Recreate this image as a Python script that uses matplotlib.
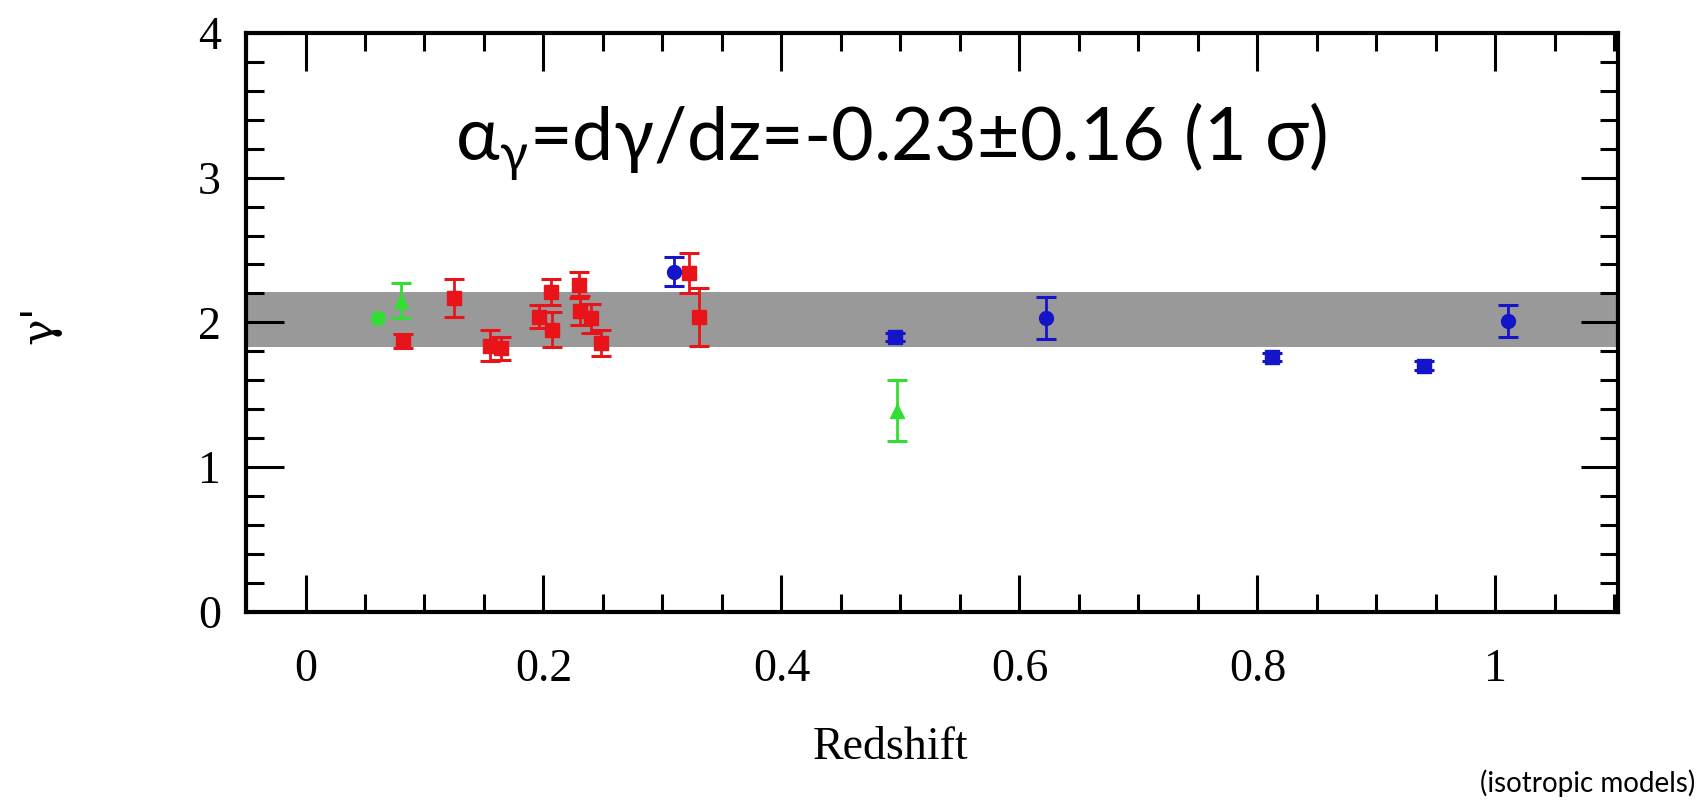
import matplotlib
matplotlib.use('Agg')
import matplotlib.pyplot as plt
from matplotlib.ticker import MultipleLocator

# data: redshift, gamma', error
red_z = [0.082, 0.125, 0.155, 0.164, 0.196, 0.206, 0.207, 0.230, 0.231, 0.240, 0.248, 0.322, 0.331]
red_g = [1.87, 2.17, 1.84, 1.82, 2.04, 2.21, 1.95, 2.26, 2.08, 2.03, 1.86, 2.34, 2.04]
red_e = [0.05, 0.13, 0.11, 0.08, 0.08, 0.09, 0.12, 0.09, 0.10, 0.10, 0.09, 0.14, 0.20]

blue_z = [0.310, 0.495, 0.622, 0.812, 0.940, 1.011]
blue_g = [2.35, 1.90, 2.03, 1.76, 1.70, 2.01]
blue_e = [0.10, 0.03, 0.145, 0.03, 0.03, 0.11]
blue_m = ['o', 's', 'o', 's', 's', 'o']

green_z = [0.061, 0.080, 0.497]
green_g = [2.03, 2.15, 1.39]
green_e = [0.0, 0.12, 0.21]
green_m = ['o', '^', '^']

band_lo, band_hi = 1.83, 2.207
xticks = [0, 0.2, 0.4, 0.6, 0.8, 1]
xticklabels = ['0', '0.2', '0.4', '0.6', '0.8', '1']
yticks = [0, 1, 2, 3, 4]

fig = plt.figure(figsize=(16.99, 8), dpi=100)
ax = fig.add_axes([0.1448, 0.235, 0.8075, 0.724])

ax.axhspan(band_lo, band_hi, color='#999999', zorder=1, lw=0)

red = '#e8141a'
blue = '#1414c8'
green = '#33dd33'
ax.errorbar(red_z, red_g, yerr=red_e, fmt='s', color=red, ms=9.5, capsize=7,
            elinewidth=2, capthick=2.2, zorder=3)
for z, g, e, m in zip(blue_z, blue_g, blue_e, blue_m):
    ax.errorbar(z, g, yerr=e, fmt=m, color=blue, ms=9.5 if m == 's' else 10,
                capsize=7, elinewidth=2, capthick=2.2, zorder=3)
for z, g, e, m in zip(green_z, green_g, green_e, green_m):
    ax.errorbar(z, g, yerr=e if e > 0 else None, fmt=m, color=green, ms=10,
                capsize=7, elinewidth=2, capthick=2.2, zorder=3)

ax.set_xlim(-0.05, 1.103)
ax.set_ylim(0, 4)
ax.set_xticks(xticks)
ax.set_xticklabels(xticklabels)
ax.set_yticks(yticks)
ax.xaxis.set_minor_locator(MultipleLocator(0.05))
ax.yaxis.set_minor_locator(MultipleLocator(0.2))
ax.tick_params(which='both', direction='in', top=True, right=True, width=2.2, color='black')
ax.tick_params(which='major', length=27)
ax.tick_params(which='minor', length=13)
ax.tick_params(axis='x', which='major', pad=26)
ax.tick_params(axis='y', which='major', pad=18)
for lab in ax.get_xticklabels() + ax.get_yticklabels():
    lab.set_family('Liberation Serif')
    lab.set_fontsize(33)
for sp in ax.spines.values():
    sp.set_linewidth(3)

fig.text(0.5244, 0.065, 'Redshift', family='Liberation Serif', fontsize=33,
         ha='center', va='center')
fig.text(0.0235, 0.594, "\u03b3'", family='DejaVu Serif', fontsize=32,
         rotation=90, ha='center', va='center')

fig.text(0.268, 0.80, '\u03b1$\\mathregular{_{\u03b3}}$=d\u03b3/dz=-0.23\u00b10.16 (1 \u03c3)',
         family='Lato', fontsize=53, ha='left', va='baseline')
fig.text(0.998, 0.004, '(isotropic models)', family='Lato', fontsize=20,
         ha='right', va='bottom')

fig.savefig('out.png', dpi=100)
